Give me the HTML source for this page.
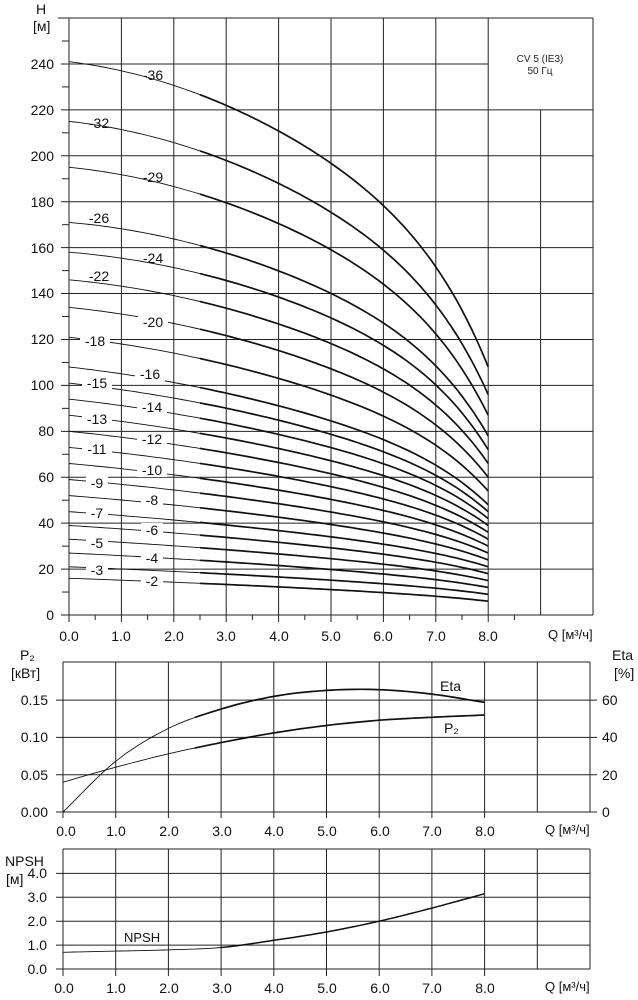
<!DOCTYPE html>
<html><head><meta charset="utf-8"><style>
html,body{margin:0;padding:0;background:#fff;}
svg{display:block;font-family:"Liberation Sans",Arial,sans-serif;}
.t{font-size:14px;fill:#111;}
.s{font-size:13px;fill:#111;}
.g{stroke:#222;stroke-width:1;fill:none;}
.lb{font-size:14px;fill:#111;}
</style></head><body>
<svg id="c" width="638" height="1000" viewBox="0 0 638 1000" xmlns="http://www.w3.org/2000/svg">
<rect width="638" height="1000" fill="#fff"/>
<g id="grid" class="g"></g>
<g id="curves"></g>
<text class="t" x="36" y="14">H</text>
<text class="t" x="33" y="31">[м]</text>
<g class="t" text-anchor="end">
<text x="54" y="620">0</text><text x="54" y="574">20</text><text x="54" y="528">40</text><text x="54" y="482">60</text>
<text x="54" y="436">80</text><text x="54" y="390">100</text><text x="54" y="344">120</text><text x="54" y="298">140</text>
<text x="54" y="253">160</text><text x="54" y="207">180</text><text x="54" y="161">200</text><text x="54" y="115">220</text><text x="54" y="69">240</text>
</g>
<g class="t" text-anchor="middle">
<text x="69" y="641">0.0</text><text x="121" y="641">1.0</text><text x="174" y="641">2.0</text><text x="226" y="641">3.0</text>
<text x="279" y="641">4.0</text><text x="331" y="641">5.0</text><text x="383" y="641">6.0</text><text x="436" y="641">7.0</text><text x="488" y="641">8.0</text>
</g>
<text class="s" x="548" y="639" font-size="12">Q [м³/ч]</text>
<text x="540" y="62" font-size="10" text-anchor="middle" fill="#222">CV 5 (IE3)</text>
<text x="540" y="74" font-size="10" text-anchor="middle" fill="#222">50 Гц</text>
<g id="lbls" class="lb" text-anchor="middle"></g>
<text class="t" x="20" y="660">P₂</text>
<text class="t" x="11" y="678">[кВт]</text>
<text class="t" x="612" y="660">Eta</text>
<text class="t" x="614" y="678">[%]</text>
<g class="t" text-anchor="end">
<text x="48" y="817">0.00</text><text x="48" y="780">0.05</text><text x="48" y="742">0.10</text><text x="48" y="705">0.15</text>
</g>
<g class="t">
<text x="602" y="817">0</text><text x="602" y="780">20</text><text x="602" y="742">40</text><text x="602" y="705">60</text>
</g>
<g class="t" text-anchor="middle">
<text x="66" y="836">0.0</text><text x="116" y="836">1.0</text><text x="169" y="836">2.0</text><text x="222" y="836">3.0</text>
<text x="274" y="836">4.0</text><text x="327" y="836">5.0</text><text x="380" y="836">6.0</text><text x="432" y="836">7.0</text><text x="485" y="836">8.0</text>
</g>
<text class="s" x="545" y="834" font-size="12">Q [м³/ч]</text>
<text class="t" x="440" y="691">Eta</text>
<text class="t" x="444" y="733">P₂</text>
<text class="t" x="5" y="866">NPSH</text>
<text class="t" x="6" y="884">[м]</text>
<g class="t" text-anchor="end">
<text x="47" y="974">0.0</text><text x="47" y="950">1.0</text><text x="47" y="926">2.0</text><text x="47" y="902">3.0</text><text x="47" y="878">4.0</text>
</g>
<g class="t" text-anchor="middle">
<text x="64" y="993">0.0</text><text x="116" y="993">1.0</text><text x="169" y="993">2.0</text><text x="222" y="993">3.0</text>
<text x="274" y="993">4.0</text><text x="327" y="993">5.0</text><text x="380" y="993">6.0</text><text x="432" y="993">7.0</text><text x="485" y="993">8.0</text>
</g>
<text class="s" x="545" y="991" font-size="12">Q [м³/ч]</text>
<text class="s" x="124" y="942">NPSH</text>
</svg>
<script>
(function(){
var NS="http://www.w3.org/2000/svg";
var grid=document.getElementById('grid'),cur=document.getElementById('curves'),lb=document.getElementById('lbls');
function L(x1,y1,x2,y2,p){var e=document.createElementNS(NS,'line');e.setAttribute('x1',x1);e.setAttribute('y1',y1);e.setAttribute('x2',x2);e.setAttribute('y2',y2);(p||grid).appendChild(e);return e;}
function P(d,w){var e=document.createElementNS(NS,'path');e.setAttribute('d',d);e.setAttribute('fill','none');e.setAttribute('stroke','#111');e.setAttribute('stroke-width',w);cur.appendChild(e);}
var X=function(q){return 69+52.4*q;},Y=function(h){return 615-2.296*h;};
L(58,18,593,18);L(593,18,593,615);
for(var i=0;i<=10;i++){var x=X(i);if(i==9)L(x,110,x,615);else if(i!=10)L(x,18,x,i==0?622:615);}
for(var h=0;h<=240;h+=20){var y=Y(h);L(61,y,h==240?488:593,y);}
for(var h=10;h<=250;h+=20){L(62,Y(h),69,Y(h));}
for(var i=0;i<=8;i++){L(X(i),615,X(i),622);L(X(i+0.5),615,X(i+0.5),620);}
function cr(arr,t){var i=Math.min(7,Math.floor(t)),f=t-i;var p0=arr[Math.max(0,i-1)],p1=arr[i],p2=arr[i+1],p3=arr[Math.min(8,i+2)];if(i==0)p0=2*p1-p2;if(i==7)p3=2*p2-p1;
return 0.5*((2*p1)+(-p0+p2)*f+(2*p0-5*p1+4*p2-p3)*f*f+(-p0+3*p1-3*p2+p3)*f*f*f);}
function G(q){var s=q/8;return 0.170*s+0.564*s*s+0.266*Math.pow(s,8);}
var st=[[36,241],[32,215],[29,195],[26,171],[24,158],[22,146],[20,134],[18,121],[16,108],[15,101],[14,94],[13,87],[12,80],[11,73],[10,66],[9,59],[8,52],[7,45],[6,39],[5,33],[4,27],[3,21],[2,16]];
function Hn(n,h0,q){var a=Math.min(1,0.4+n/40);var g=a*G(q)+(1-a)*q/8;return h0-(h0-3*n)*g;}
st.forEach(function(s){var d1='',d2='';for(var q=0;q<=2.5001;q+=0.1){d1+=(q==0?'M':'L')+X(q).toFixed(1)+','+Y(Hn(s[0],s[1],q)).toFixed(1);}
for(var q=2.5;q<=8.0001;q+=0.1){d2+=(q==2.5?'M':'L')+X(q).toFixed(1)+','+Y(Hn(s[0],s[1],q)).toFixed(1);}
P(d1,0.9);P(d2,1.7);});
var labs=[["-36",153,80,0],["-32",99,128,0],["-29",153,182,0],["-26",99,223,0],["-24",153,263,0],["-22",99,281,0],["-20",153,327,1],["-18",95,346,1],["-16",150,379,1],["-15",97,388,1],["-14",152,412,1],["-13",97,424,1],["-12",152,444,1],["-11",97,454,1],["-10",152,475,1],["-9",97,488,1],["-8",152,505,1],["-7",97,518,1],["-6",152,535,1],["-5",97,548,1],["-4",152,563,1],["-3",97,575,1],["-2",152,586,1]];
labs.forEach(function(l){if(l[3]){var r=document.createElementNS(NS,'rect');var w=l[0].length*8+6;r.setAttribute('x',l[1]-w/2);r.setAttribute('y',l[2]-12);r.setAttribute('width',w);r.setAttribute('height',14);r.setAttribute('fill','#fff');lb.appendChild(r);}
var t=document.createElementNS(NS,'text');t.setAttribute('x',l[1]);t.setAttribute('y',l[2]);t.textContent=l[0];lb.appendChild(t);});
var X2=function(q){return 63+52.7*q;},Y2=function(p){return 812-746*p;};
L(63,662,590,662);
for(var i=0;i<=10;i++)L(X2(i),662,X2(i),i<=8?818:812);
for(var k=0;k<=3;k++){var y=Y2(k*0.05);L(56,y,597,y);}
var eta=[0,.068,.112,.138,.155,.163,.164,.158,.147],p2=[.04,.06,.078,.093,.106,.116,.123,.127,.13];
[eta,p2].forEach(function(a){var d1='',d2='';for(var q=0;q<=2.5001;q+=0.1)d1+=(q==0?'M':'L')+X2(q).toFixed(1)+','+Y2(cr(a,q)).toFixed(1);
for(var q=2.5;q<=8.0001;q+=0.1)d2+=(q==2.5?'M':'L')+X2(q).toFixed(1)+','+Y2(cr(a,q)).toFixed(1);P(d1,0.9);P(d2,1.7);});
var Y3=function(n){return 969-23.9*n;};
L(63,849,590,849);
for(var i=0;i<=10;i++)L(X2(i),849,X2(i),i<=8?976:969);
for(var k=0;k<=4;k++)L(56,Y3(k),590,Y3(k));
var np=[0.7,0.75,0.8,0.9,1.2,1.55,2.0,2.55,3.15];
var d1='',d2='';for(var q=0;q<=3.0001;q+=0.1)d1+=(q==0?'M':'L')+X2(q).toFixed(1)+','+Y3(cr(np,q)).toFixed(1);
for(var q=3;q<=8.0001;q+=0.1)d2+=(q==3?'M':'L')+X2(q).toFixed(1)+','+Y3(cr(np,q)).toFixed(1);P(d1,0.9);P(d2,1.5);
})();
</script>
</body></html>
